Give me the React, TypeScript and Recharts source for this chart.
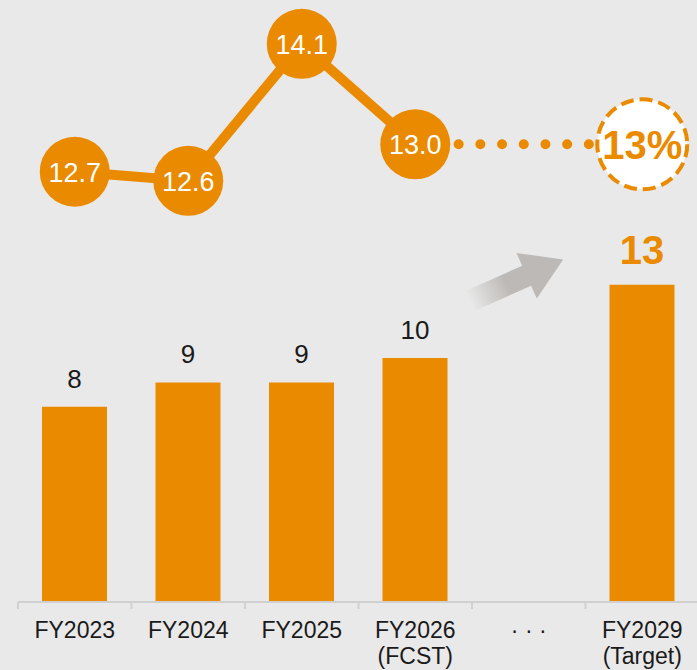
import React from "react";
import { ComposedChart, Bar, Line, XAxis, YAxis, LabelList } from "recharts";

const categories = ["FY2023", "FY2024", "FY2025", "FY2026\n(FCST)", "· · ·", "FY2029\n(Target)"];
const barValues = [8, 9, 9, 10, null, 13];
const rateValues = [12.7, 12.6, 14.1, 13.0, null, null];
const targetPath = [null, null, null, 13.0, null, 13];
const targetLabel = "13%";
const targetIndex = 5;

const ORANGE = "#EA8A00";
const BG = "#E9E9E9";
const FONT = "'Liberation Sans', Arial, sans-serif";

// bar label text carries a "!" tag for the highlighted target bar
const data = categories.map((name, i) => ({
  name,
  bar: barValues[i],
  barText: barValues[i] == null ? null : i === targetIndex ? `${barValues[i]}!` : `${barValues[i]}`,
  rate: rateValues[i],
  target: targetPath[i],
}));

function AxisTick(props: any) {
  const { x, y, payload } = props;
  const half = payload?.offset ?? 56.75;
  const lines = String(payload.value).split("\n");
  return (
    <g>
      <line x1={x - half} x2={x - half} y1={y} y2={y + 7} stroke="#D0D0D0" strokeWidth={2} />
      {lines.map((t, i) => (
        <text key={i} x={x} y={y + 36 + i * 26} textAnchor="middle" fontSize={23} fill="#1A1A1A" fontFamily={FONT}>
          {t}
        </text>
      ))}
    </g>
  );
}

function BarLabel(props: any) {
  const { x, y, width, value } = props;
  if (value == null) return null;
  const cx = x + width / 2;
  const s = String(value);
  if (s.endsWith("!")) {
    return (
      <text x={cx} y={y - 21} textAnchor="middle" fontSize={40} fontWeight="bold" fill={ORANGE} fontFamily={FONT}>
        {s.slice(0, -1)}
      </text>
    );
  }
  return (
    <text x={cx} y={y - 19} textAnchor="middle" fontSize={26} fill="#1A1A1A" fontFamily={FONT}>
      {s}
    </text>
  );
}

function RateDot(props: any) {
  const { cx, cy, value, index } = props;
  if (value == null || cy == null) return <g key={index} />;
  return (
    <g key={index}>
      <circle cx={cx} cy={cy} r={35} fill={ORANGE} />
      <text x={cx} y={cy + 10} textAnchor="middle" fontSize={27} fill="#FFFFFF" fontFamily={FONT}>
        {value.toFixed(1)}
      </text>
    </g>
  );
}

function TargetDot(props: any) {
  const { cx, cy, index } = props;
  if (index !== targetIndex || cy == null) return <g key={index} />;
  return (
    <g key={index}>
      <circle cx={cx} cy={cy} r={45} fill="#FFFFFF" stroke={ORANGE} strokeWidth={4} strokeDasharray="13 6" />
      <text x={cx} y={cy + 15} textAnchor="middle" fontSize={40} fontWeight="bold" fill={ORANGE} fontFamily={FONT}>
        {targetLabel}
      </text>
    </g>
  );
}

function Arrow() {
  return (
    <svg width={697} height={670} style={{ position: "absolute", left: 0, top: 0, pointerEvents: "none" }}>
      <defs>
        <linearGradient id="arrowFade" x1="0" y1="0" x2="1" y2="0">
          <stop offset="0" stopColor="#BDB9B6" stopOpacity={0} />
          <stop offset="0.4" stopColor="#BDB9B6" stopOpacity={1} />
          <stop offset="1" stopColor="#BDB9B6" stopOpacity={1} />
        </linearGradient>
      </defs>
      <g transform="translate(470 301) rotate(-24)">
        <polygon points="0,-11 62,-11 62,-25 102,0 62,25 62,11 0,11" fill="url(#arrowFade)" />
      </g>
    </svg>
  );
}

export default function App() {
  return (
    <div style={{ position: "fixed", left: 0, top: 0, width: 697, height: 670, background: BG, overflow: "hidden" }}>
      <ComposedChart width={720} height={670} data={data} margin={{ top: 0, right: 21, bottom: 0, left: 18 }}>
        <XAxis
          dataKey="name"
          height={68}
          interval={0}
          tickLine={false}
          tickSize={0}
          tickMargin={0}
          axisLine={{ stroke: "#D0D0D0", strokeWidth: 2 }}
          tick={<AxisTick />}
        />
        <YAxis yAxisId="bar" hide domain={[0, 24.67]} allowDataOverflow />
        <YAxis yAxisId="rate" hide domain={[7.99, 14.58]} allowDataOverflow />
        <Bar yAxisId="bar" dataKey="bar" fill={ORANGE} barSize={65} isAnimationActive={false}>
          <LabelList dataKey="barText" content={<BarLabel />} />
        </Bar>
        <Line
          yAxisId="rate"
          dataKey="target"
          stroke={ORANGE}
          strokeWidth={10}
          strokeLinecap="round"
          strokeDasharray="0 21.7"
          connectNulls
          dot={<TargetDot />}
          activeDot={false}
          isAnimationActive={false}
        />
        <Line
          yAxisId="rate"
          dataKey="rate"
          stroke={ORANGE}
          strokeWidth={10}
          dot={<RateDot />}
          activeDot={false}
          isAnimationActive={false}
        />
      </ComposedChart>
      <Arrow />
    </div>
  );
}
